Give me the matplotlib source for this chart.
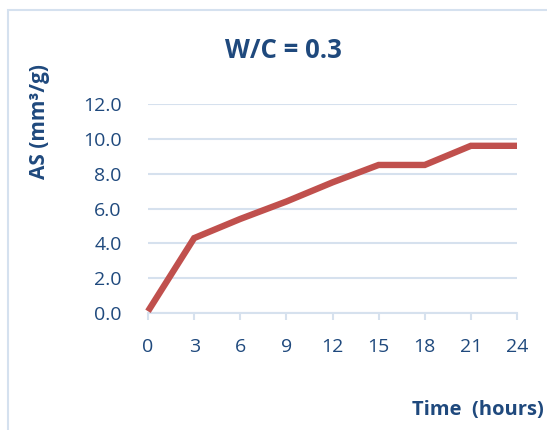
import matplotlib.pyplot as plt
from matplotlib.patches import Rectangle

# data
hours = [0, 3, 6, 9, 12, 15, 18, 21, 24]
as_values = [0.1, 4.3, 5.4, 6.4, 7.5, 8.5, 8.5, 9.6, 9.6]
y_ticks = [0, 2, 4, 6, 8, 10, 12]
x_ticks = [0, 3, 6, 9, 12, 15, 18, 21, 24]

navy = '#1F497D'
red = '#C0504D'
grid_blue = '#D6E1EE'

plt.rcParams['font.family'] = ['Open Sans', 'DejaVu Sans']

fig = plt.figure(figsize=(5.47, 4.30), dpi=100)
ax = fig.add_axes([148 / 547, 1 - 313 / 430, (517 - 148) / 547, (313 - 104) / 430])

# chart frame (cropped on right/bottom in the original)
fig.patches.append(Rectangle((8 / 547, -0.2), 1.2, 1.2 - 10 / 430,
                             transform=fig.transFigure, fill=False,
                             edgecolor='#D5E1EF', linewidth=1.5))

ax.plot(hours, as_values, color=red, linewidth=4.6,
        solid_capstyle='butt', solid_joinstyle='miter', clip_on=False, zorder=3)

ax.set_xlim(0, 24)
ax.set_ylim(0, 12)
ax.set_xticks(x_ticks)
ax.set_xticklabels([str(t) for t in x_ticks])
ax.set_yticks(y_ticks)
ax.set_yticklabels(['{:.1f}'.format(v) for v in y_ticks])

ax.grid(axis='y', color=grid_blue, linewidth=1.5)
ax.set_axisbelow(True)
for side in ['top', 'right', 'left']:
    ax.spines[side].set_visible(False)
ax.spines['bottom'].set_color(grid_blue)
ax.spines['bottom'].set_linewidth(1.5)

ax.tick_params(axis='x', colors=navy, labelsize=14, length=5, width=1.5,
               color=grid_blue, pad=13)
ax.tick_params(axis='y', colors=navy, labelsize=14, length=0, pad=19)

fig.text(283 / 547, 1 - 50 / 430, 'W/C = 0.3', ha='center', va='center',
         fontsize=18.5, fontweight='bold', color=navy)
fig.text(40 / 547, 1 - 122 / 430, 'AS (mm³/g)', rotation=90, ha='center',
         va='center', fontsize=15, fontweight='bold', color=navy)
fig.text(544 / 547, 1 - 410 / 430, 'Time  (hours)', ha='right', va='center',
         fontsize=14.5, fontweight='bold', color=navy)

fig.savefig('out.png', dpi=100)
